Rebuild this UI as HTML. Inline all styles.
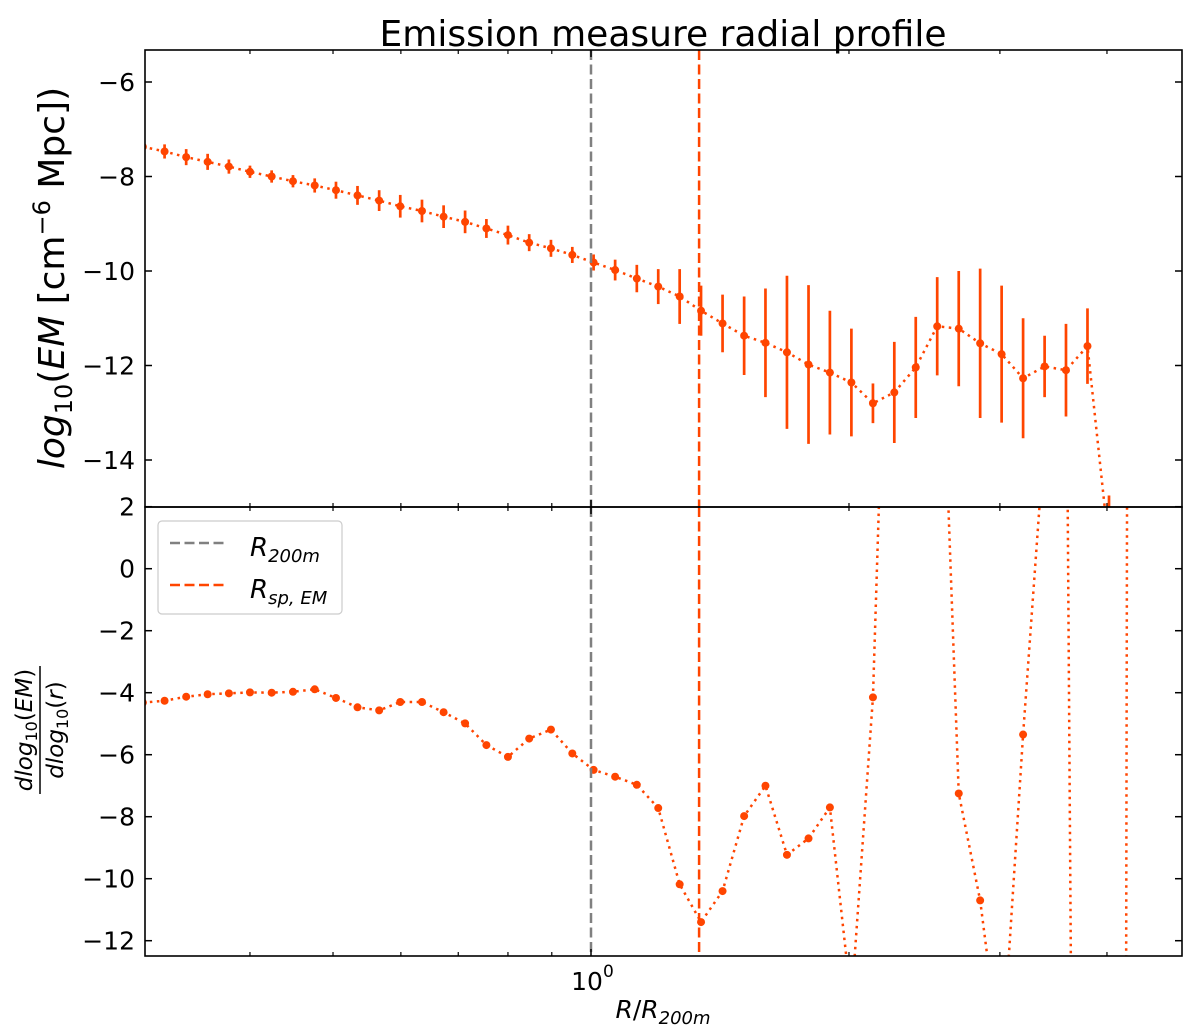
<!DOCTYPE html>
<html><head><meta charset="utf-8"><style>
html,body{margin:0;padding:0;background:#fff;overflow:hidden;width:1200px;height:1036px;}
svg{display:block;font-family:"DejaVu Sans","Liberation Sans",sans-serif;}
</style></head><body>
<svg id="chart" width="1200" height="1036" viewBox="0 0 1200 1036" xmlns="http://www.w3.org/2000/svg">
<defs>
<clipPath id="clipTop"><rect x="145" y="50" width="1037" height="457"/></clipPath>
<clipPath id="clipBot"><rect x="145" y="507" width="1037" height="449"/></clipPath>
</defs>
<text x="663" y="46" font-size="36" text-anchor="middle">Emission measure radial profile</text>
<g id="gTop" clip-path="url(#clipTop)"></g>
<g id="gBot" clip-path="url(#clipBot)"></g>
<g id="axes"></g>
<text transform="translate(64,278) rotate(-90)" font-size="36" text-anchor="middle"><tspan font-style="italic">log</tspan><tspan font-size="24" dy="8">10</tspan><tspan dy="-8">(</tspan><tspan font-style="italic">EM</tspan><tspan> [cm</tspan><tspan font-size="24" dy="-14">−6</tspan><tspan dy="14"> Mpc])</tspan></text>
<g transform="translate(40,730) rotate(-90)">
<text x="0" y="-8" font-size="23" text-anchor="middle"><tspan font-style="italic">dlog</tspan><tspan font-size="16" dy="5">10</tspan><tspan dy="-5">(</tspan><tspan font-style="italic">EM</tspan><tspan>)</tspan></text>
<line x1="-64" y1="0" x2="64" y2="0" stroke="#000" stroke-width="1.5"/>
<text x="0" y="23" font-size="23" text-anchor="middle"><tspan font-style="italic">dlog</tspan><tspan font-size="16" dy="5">10</tspan><tspan dy="-5">(</tspan><tspan font-style="italic">r</tspan><tspan>)</tspan></text>
</g>
<text x="663" y="1018" font-size="25" text-anchor="middle"><tspan font-style="italic">R</tspan>/<tspan font-style="italic">R</tspan><tspan font-size="18" dy="6" font-style="italic">200m</tspan></text>
<g>
<rect x="158" y="521" width="184" height="93" rx="4" fill="#fff" stroke="#ccc" stroke-width="1.2"/>
<line x1="170" y1="543" x2="227" y2="543" stroke="#808080" stroke-width="2.5" stroke-dasharray="10,4.5"/>
<text x="250" y="556" font-size="26"><tspan font-style="italic">R</tspan><tspan font-size="18" dy="6" font-style="italic">200m</tspan></text>
<line x1="170" y1="585" x2="227" y2="585" stroke="#ff4500" stroke-width="2.5" stroke-dasharray="10,4.5"/>
<text x="250" y="598" font-size="26"><tspan font-style="italic">R</tspan><tspan font-size="18" dy="6" font-style="italic">sp, EM</tspan></text>
</g>
</svg>
<script>
const radius = [0.300,0.318,0.337,0.357,0.378,0.400,0.424,0.449,0.476,0.504,0.534,0.566,0.599,0.635,0.673,0.713,0.755,0.800,0.847,0.898,0.951,1.007,1.067,1.131,1.198,1.269,1.344,1.424,1.509,1.598,1.693,1.794,1.900,2.013,2.133,2.259,2.393,2.535,2.686,2.845,3.014,3.193,3.383,3.583,3.796,4.022,4.261];
const logEM = [-7.37,-7.47,-7.59,-7.69,-7.79,-7.90,-8.00,-8.10,-8.19,-8.29,-8.40,-8.51,-8.63,-8.73,-8.85,-8.96,-9.10,-9.24,-9.40,-9.52,-9.66,-9.82,-9.98,-10.16,-10.33,-10.54,-10.84,-11.11,-11.37,-11.52,-11.72,-11.98,-12.15,-12.36,-12.80,-12.57,-12.04,-11.17,-11.22,-11.53,-11.76,-12.27,-12.02,-12.10,-11.59,-15.85];
const logEMerr = [0.15,0.15,0.17,0.17,0.15,0.13,0.13,0.13,0.15,0.18,0.20,0.22,0.24,0.24,0.24,0.24,0.20,0.20,0.18,0.18,0.17,0.17,0.22,0.29,0.37,0.58,0.53,0.61,0.83,1.15,1.62,1.68,1.31,1.14,0.42,1.07,1.07,1.04,1.22,1.58,1.45,1.27,0.65,0.98,0.80,1.1];
const slope = [-4.32,-4.26,-4.13,-4.05,-4.02,-3.99,-4.00,-3.97,-3.89,-4.17,-4.47,-4.57,-4.30,-4.30,-4.63,-4.99,-5.69,-6.07,-5.48,-5.19,-5.96,-6.49,-6.71,-6.97,-7.72,-10.18,-11.40,-10.40,-7.98,-7.00,-9.23,-8.70,-7.70,-14.0,-4.15,18,20,12,-7.25,-10.70,-16.1,-5.35,4.3,10,-90,-300,60];
const yTicksTop = [-6,-8,-10,-12,-14];
const yTicksBot = [2,0,-2,-4,-6,-8,-10,-12];
const xMinorTicks = [0.4,0.5,0.6,0.7,0.8,0.9,2,3,4];
const xMajorTicks = [1];
const r200m = 1.0;
const rsp = 1.337;

const NS="http://www.w3.org/2000/svg";
const X0=591, XD=857;
const xs = r => X0 + Math.log10(r)*XD;
const yT = v => 82 + (-6 - v)*47.25;
const yB = v => 692.7 + (-4 - v)*31;
const L=145,R=1182,T=50,M=507,B=956;
const C="#ff4500";
function mk(tag,attrs,parent){const e=document.createElementNS(NS,tag);for(const k in attrs)e.setAttribute(k,attrs[k]);parent.appendChild(e);return e;}
const gTop=document.getElementById('gTop'), gBot=document.getElementById('gBot'), ax=document.getElementById('axes');

[[T,M],[M,B]].forEach((s,i)=>{
  let l=mk('line',{x1:xs(r200m),x2:xs(r200m),y1:s[0],y2:s[1],stroke:'#808080','stroke-width':2.5,'stroke-dasharray':'10,4.5'},ax);
  
  
  let l2=mk('line',{x1:xs(rsp),x2:xs(rsp),y1:s[0],y2:s[1],stroke:C,'stroke-width':2.5,'stroke-dasharray':'10,4.5'},ax);
  
  
});

let pts=radius.map((r,i)=>xs(r)+','+yT(logEM[i])).join(' ');
let pl=mk('polyline',{points:pts,fill:'none',stroke:C,'stroke-width':2.5,'stroke-dasharray':'2.5,4.5'},gTop);


radius.forEach((r,i)=>{
  let e=mk('line',{x1:xs(r),x2:xs(r),y1:yT(logEM[i]+logEMerr[i]),y2:yT(logEM[i]-logEMerr[i]),stroke:C,'stroke-width':2.7},gTop);
  
  
  let c=mk('circle',{cx:xs(r),cy:yT(logEM[i]),r:4,fill:C},gTop);
  
  
});
let pts2=radius.map((r,i)=>xs(r)+','+yB(slope[i])).join(' ');
let pl2=mk('polyline',{points:pts2,fill:'none',stroke:C,'stroke-width':2.5,'stroke-dasharray':'2.5,4.5'},gBot);


radius.forEach((r,i)=>{
  let c=mk('circle',{cx:xs(r),cy:yB(slope[i]),r:4,fill:C},gBot);
  
  
});

[[T,M],[M,B]].forEach((s,i)=>{
  let f=mk('rect',{x:L,y:s[0],width:R-L,height:s[1]-s[0],fill:'none',stroke:'#000','stroke-width':1.6},ax);
  
  
});
yTicksTop.forEach(v=>{
  const y=yT(v);
  mk('line',{x1:L,x2:L+7,y1:y,y2:y,stroke:'#000','stroke-width':1.5},ax);
  mk('line',{x1:R,x2:R-7,y1:y,y2:y,stroke:'#000','stroke-width':1.5},ax);
  let t=mk('text',{x:L-10,y:y+9,'font-size':25,'text-anchor':'end'},ax);
  t.textContent=(v<0?'−':'')+Math.abs(v);
  
  
});
yTicksBot.forEach(v=>{
  const y=yB(v);
  mk('line',{x1:L,x2:L+7,y1:y,y2:y,stroke:'#000','stroke-width':1.5},ax);
  mk('line',{x1:R,x2:R-7,y1:y,y2:y,stroke:'#000','stroke-width':1.5},ax);
  let t=mk('text',{x:L-10,y:y+9,'font-size':25,'text-anchor':'end'},ax);
  t.textContent=(v<0?'−':'')+Math.abs(v);
  
  
});
[[T,M],[M,B]].forEach(s=>{
  xMinorTicks.forEach(r=>{const x=xs(r);
    mk('line',{x1:x,x2:x,y1:s[0],y2:s[0]+4,stroke:'#000','stroke-width':1.2},ax);
    mk('line',{x1:x,x2:x,y1:s[1],y2:s[1]-4,stroke:'#000','stroke-width':1.2},ax);});
  xMajorTicks.forEach(r=>{const x=xs(r);
    mk('line',{x1:x,x2:x,y1:s[0],y2:s[0]+7,stroke:'#000','stroke-width':1.5},ax);
    mk('line',{x1:x,x2:x,y1:s[1],y2:s[1]-7,stroke:'#000','stroke-width':1.5},ax);});
});
xMajorTicks.forEach(r=>{
  let t=mk('text',{x:xs(r)-4,y:B+34,'font-size':25,'text-anchor':'middle'},ax);
  t.textContent='10';
  
  
  let s=mk('text',{x:xs(r)+12,y:B+21,'font-size':17},ax);
  s.textContent='0';
  
  
});
</script>
</body></html>
